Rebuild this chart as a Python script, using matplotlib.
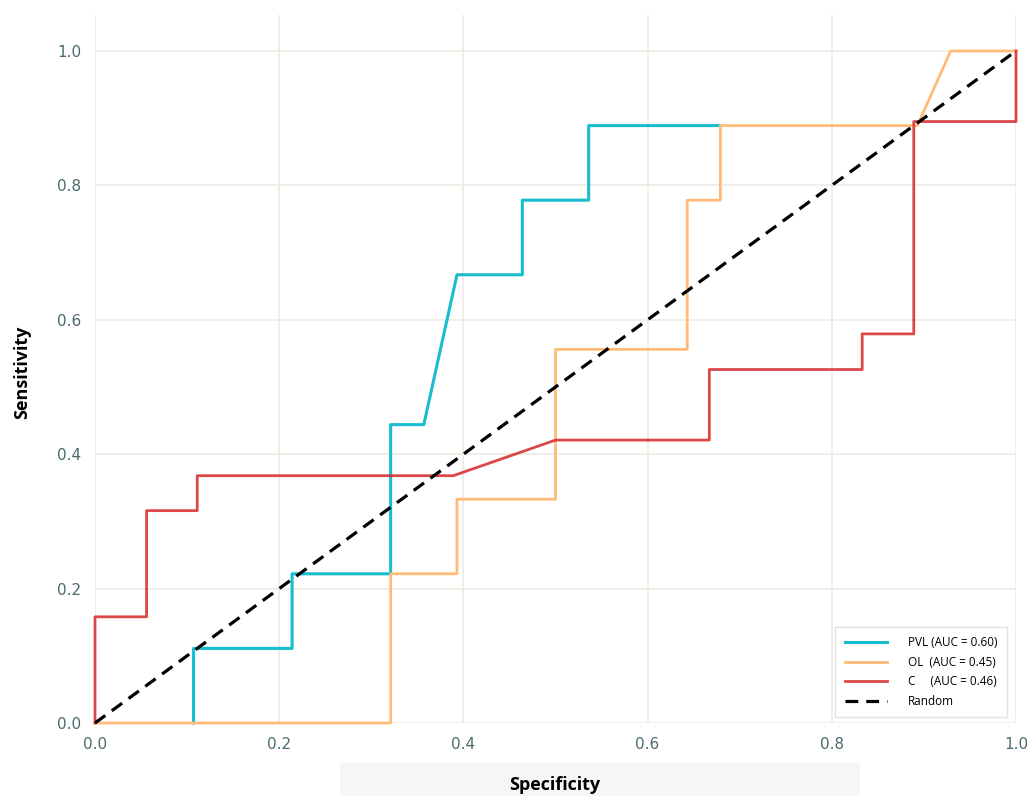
import matplotlib.pyplot as plt
from matplotlib.patches import Rectangle

# ---------------------------------------------------------
# ROC curve points (specificity axis, sensitivity)
# ---------------------------------------------------------
pvl_x = [0.107, 0.107, 0.214, 0.214, 0.321, 0.321, 0.357, 0.393, 0.464, 0.464, 0.536, 0.536, 0.679]
pvl_y = [0.0, 0.111, 0.111, 0.222, 0.222, 0.444, 0.444, 0.667, 0.667, 0.778, 0.778, 0.889, 0.889]

ol_x = [0.0, 0.321, 0.321, 0.393, 0.393, 0.5, 0.5, 0.643, 0.643, 0.679, 0.679, 0.893, 0.929, 1.0]
ol_y = [0.0, 0.0, 0.222, 0.222, 0.333, 0.333, 0.556, 0.556, 0.778, 0.778, 0.889, 0.889, 1.0, 1.0]

c_x = [0.0, 0.0, 0.056, 0.056, 0.111, 0.111, 0.389, 0.5, 0.667, 0.667, 0.833, 0.833, 0.889, 0.889, 1.0, 1.0]
c_y = [0.0, 0.158, 0.158, 0.316, 0.316, 0.368, 0.368, 0.421, 0.421, 0.526, 0.526, 0.579, 0.579, 0.895, 0.895, 1.0]

labels = ['PVL (AUC = 0.60)', 'OL  (AUC = 0.45)', 'C     (AUC = 0.46)', 'Random']
colors = ['#17BECF', '#FFBB78', '#D62728', 'black']
ticks = [0.0, 0.2, 0.4, 0.6, 0.8, 1.0]

# ---------------------------------------------------------
# Plot
# ---------------------------------------------------------
fig = plt.figure(figsize=(10.27, 7.96), dpi=100)
ax = fig.add_axes([0.0925, 0.0917, 0.8968, 0.889])

ax.plot(pvl_x, pvl_y, color=colors[0], lw=2.2, label=labels[0], clip_on=False, zorder=3)
ax.plot(ol_x, ol_y, color=colors[1], lw=2.0, label=labels[1], clip_on=False, zorder=3)
ax.plot(c_x, c_y, color=colors[2], lw=2.0, alpha=0.85, label=labels[2], clip_on=False, zorder=3)
ax.plot([0, 1], [0, 1], color=colors[3], lw=2.3, ls='--', dashes=(4, 2.5), label=labels[3],
        clip_on=False, zorder=4)

ax.set_xlim(0, 1)
ax.set_ylim(0, 1.053)
ax.set_xticks(ticks)
ax.set_yticks(ticks)
ax.set_xticklabels([f'{t:.1f}' for t in ticks])
ax.set_yticklabels([f'{t:.1f}' for t in ticks])
ax.tick_params(length=0, labelsize=11, labelcolor='#4A6B6E', pad=10)
ax.grid(True, color='#EEEBE2', lw=1.2)
ax.set_axisbelow(True)
for s in ax.spines.values():
    s.set_visible(False)

# light band behind the x label
fig.patches.append(Rectangle((340 / 1027, 0), 520 / 1027, 33 / 796, transform=fig.transFigure,
                             facecolor='#F6F6F6', edgecolor='none', zorder=0))

fig.text(555 / 1027, 11 / 796, 'Specificity', fontsize=13, fontweight='bold',
         family='Open Sans', ha='center', va='center', zorder=2)
fig.text(22 / 1027, 1 - 372 / 796, 'Sensitivity', fontsize=13, fontweight='bold',
         family='Open Sans', ha='center', va='center', rotation=90)

leg = ax.legend(loc='lower right', bbox_to_anchor=(0.993, 0.005), frameon=True,
                fancybox=False, edgecolor='#DDDDDD', handlelength=3.6, handletextpad=1.8,
                borderpad=0.8, labelspacing=0.55, borderaxespad=0.2,
                prop={'family': 'Open Sans', 'size': 8.5})
leg.get_frame().set_linewidth(1.0)

plt.savefig('out.png', dpi=100)
